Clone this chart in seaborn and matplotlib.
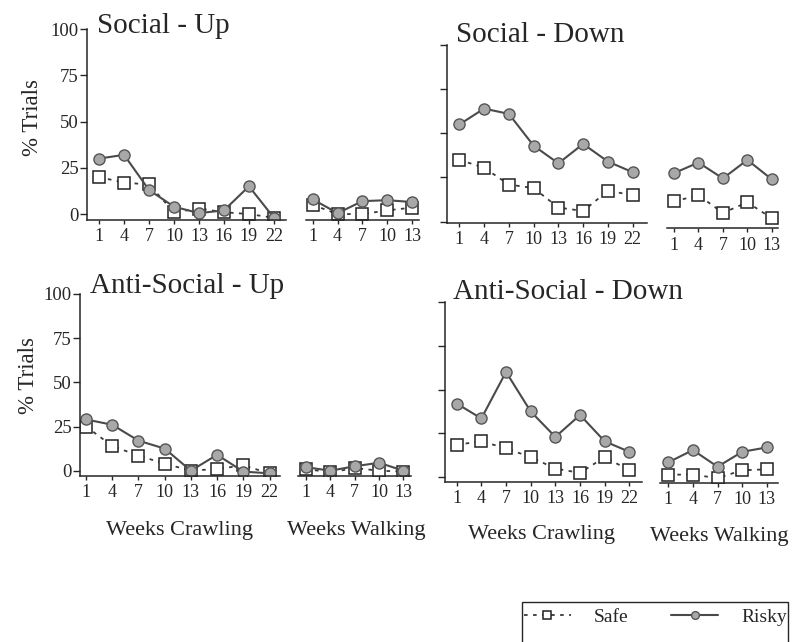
import matplotlib
matplotlib.use('Agg')
import matplotlib.pyplot as plt
import pandas as pd
import seaborn as sns
from matplotlib.patches import Rectangle

sns.set_style('ticks')
plt.rcParams['font.family'] = ['Liberation Serif', 'DejaVu Serif']

# Data (% trials)
crawl_weeks = [1, 4, 7, 10, 13, 16, 19, 22]
walk_weeks = [1, 4, 7, 10, 13]
y_ticks = [0, 25, 50, 75, 100]

social_up_crawl_safe = [20, 17, 16, 1, 3, 1, 0, -2]
social_up_crawl_risky = [30, 32, 13, 4, 0.5, 2, 15, -2]
social_up_walk_safe = [5, 0, 0, 2, 3.5]
social_up_walk_risky = [8, 0.5, 7, 7.5, 6.5]

social_down_crawl_safe = [35, 30.5, 21, 19, 8, 6, 17.5, 15]
social_down_crawl_risky = [55, 64, 61, 43, 33, 44, 34, 28]
social_down_walk_safe = [11.5, 15, 5, 11, 2]
social_down_walk_risky = [27.5, 33.5, 24.5, 35, 24]

anti_up_crawl_safe = [25, 14, 8.5, 4, 0, 1, 3, -1.5]
anti_up_crawl_risky = [29, 26, 17, 12.5, 0, 9, -0.5, -1.5]
anti_up_walk_safe = [1, -1, 1.5, 0, -0.5]
anti_up_walk_risky = [2, 0, 2.5, 4.5, 0]

anti_down_crawl_safe = [18.5, 20.5, 16.5, 11.5, 5, 2.5, 11.5, 4]
anti_down_crawl_risky = [42, 33.5, 60, 37.5, 23, 35.5, 20.5, 14.5]
anti_down_walk_safe = [1.5, 1.5, -0.5, 4, 4.5]
anti_down_walk_risky = [8.5, 15.5, 6, 14.5, 17]

W, H = 794, 642
fig = plt.figure(figsize=(W / 100, H / 100), dpi=100)
ink = '#262626'


def px_axes(x0, x1, ytop, ybot):
    # axes box given in image pixel coordinates
    return fig.add_axes([x0 / W, 1 - ybot / H, (x1 - x0) / W, (ybot - ytop) / H])


def draw(ax, weeks, safe, risky):
    df = pd.DataFrame({'week': weeks, 'safe': safe, 'risky': risky})
    sns.lineplot(data=df, x='week', y='safe', ax=ax, errorbar=None, color='#3a3a3a',
                 linewidth=1.3, linestyle=(0, (2, 3)), marker='s', markersize=8,
                 markerfacecolor='white', markeredgecolor='#222222', markeredgewidth=1.1,
                 label='Safe')
    sns.lineplot(data=df, x='week', y='risky', ax=ax, errorbar=None, color='#4a4a4a',
                 linewidth=1.5, marker='o', markersize=8,
                 markerfacecolor='#a8a8a8', markeredgecolor='#555555', markeredgewidth=1.0,
                 label='Risky')
    ax.set_xlabel('')
    ax.set_ylabel('')
    ax.set_xticks(weeks)
    ax.set_xticklabels([str(w) for w in weeks], fontsize=13, color=ink)
    ax.tick_params(axis='x', direction='out', length=3, width=1, pad=3, colors=ink)
    ax.tick_params(axis='x', labelcolor=ink)
    for s in ['top', 'right']:
        ax.spines[s].set_visible(False)
    for s in ['left', 'bottom']:
        ax.spines[s].set_color(ink)
        ax.spines[s].set_linewidth(1.1)
    if ax.get_legend():
        ax.get_legend().remove()


def crawl_panel(box, xlim, ylim, safe, risky, show_labels):
    ax = px_axes(*box)
    draw(ax, crawl_weeks, safe, risky)
    ax.set_xlim(*xlim)
    ax.set_ylim(*ylim)
    ax.set_yticks(y_ticks)
    if show_labels:
        ax.set_yticklabels([str(v) for v in y_ticks], fontsize=13.5, color=ink)
    else:
        ax.set_yticklabels([])
    ax.tick_params(axis='y', direction='out', length=5, width=1, pad=1, colors=ink)
    return ax


def walk_panel(box, xlim, ylim, safe, risky):
    ax = px_axes(*box)
    draw(ax, walk_weeks, safe, risky)
    ax.set_xlim(*xlim)
    ax.set_ylim(*ylim)
    ax.spines['left'].set_visible(False)
    ax.set_yticks([])
    return ax


# Social - Up
ax_su = crawl_panel((87, 286, 29, 220), (-0.45, 23.45), (-3.2, 100),
                    social_up_crawl_safe, social_up_crawl_risky, True)
walk_panel((306, 419, 29, 220), (0.2, 13.8), (-3.2, 100),
           social_up_walk_safe, social_up_walk_risky)

# Social - Down
crawl_panel((446.7, 646.7, 45, 222.7), (-0.53, 23.7), (-0.6, 100),
            social_down_crawl_safe, social_down_crawl_risky, False)
walk_panel((666.7, 778.3, 45, 228.3), (0.1, 13.8), (-3.7, 100),
           social_down_walk_safe, social_down_walk_risky)

# Anti-Social - Up
crawl_panel((80, 280, 294, 476), (0.31, 23.2), (-3.0, 100),
            anti_up_crawl_safe, anti_up_crawl_risky, True)
walk_panel((298.3, 410.7, 294, 476), (0.05, 13.9), (-3.0, 100),
           anti_up_walk_safe, anti_up_walk_risky)

# Anti-Social - Down
crawl_panel((445, 641.7, 301.7, 481.7), (-0.42, 23.5), (-2.5, 100),
            anti_down_crawl_safe, anti_down_crawl_risky, False)
walk_panel((660, 778.3, 301.7, 482.7), (-0.01, 14.4), (-3.1, 100),
           anti_down_walk_safe, anti_down_walk_risky)


def ftext(x, y, s, **kw):
    fig.text(x / W, 1 - y / H, s, color=ink, **kw)


# panel titles
ftext(97, 33, 'Social - Up', fontsize=21, va='baseline')
ftext(456, 41.7, 'Social - Down', fontsize=21, va='baseline')
ftext(90, 293, 'Anti-Social - Up', fontsize=21, va='baseline')
ftext(453, 299, 'Anti-Social - Down', fontsize=21, va='baseline')

# y labels
ftext(32, 118, '% Trials', fontsize=16.5, rotation=90, ha='center', va='center')
ftext(28, 375, '% Trials', fontsize=16.5, rotation=90, ha='center', va='center')

# x labels
ftext(179, 530, 'Weeks Crawling', fontsize=16, ha='center', va='center')
ftext(356, 530, 'Weeks Walking', fontsize=16, ha='center', va='center')
ftext(542, 535, 'Weeks Crawling', fontsize=16, ha='center', va='center')
ftext(719, 537, 'Weeks Walking', fontsize=16, ha='center', va='center')

# legend
handles, labels = ax_su.get_legend_handles_labels()
fig.patches.append(Rectangle((521.7 / W, -0.05), (788 - 521.7) / W, 0.05 + 1 - 601.7 / H,
                             transform=fig.transFigure, fill=False,
                             edgecolor=ink, linewidth=1.0))
leg = fig.legend(handles, labels, loc='center left',
                 bbox_to_anchor=(524 / W, 1 - 617 / H), ncol=2, frameon=False,
                 fontsize=14, handlelength=2.4, columnspacing=2.2, markerscale=0.7,
                 handletextpad=1.2, borderaxespad=0, borderpad=0)
for t in leg.get_texts():
    t.set_color(ink)

fig.savefig('out.png', dpi=100)
